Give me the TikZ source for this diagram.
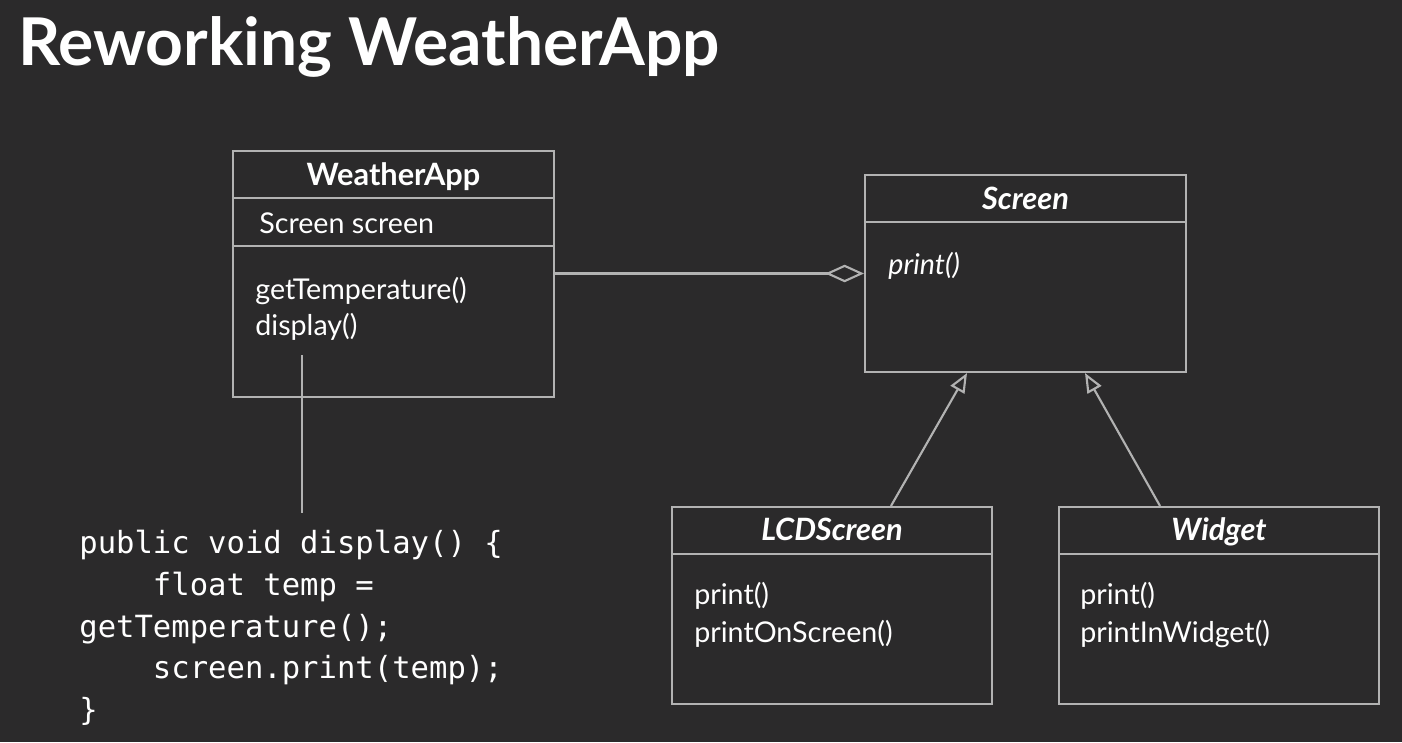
\documentclass[tikz,border=0pt]{standalone}
\usepackage{fontspec}
\setmainfont{Lato}
\newfontfamily\codefont{DejaVu Sans Mono}
\usetikzlibrary{arrows.meta,calc}

\definecolor{slidebg}{RGB}{43,42,43}
\definecolor{umlline}{RGB}{178,178,178}

\tikzset{
  classbox/.style={draw=umlline, line width=1.2pt, minimum width=6.42cm, inner sep=0pt},
  divider/.style={draw=umlline, line width=1.2pt},
  classname/.style={text=white, anchor=base, inner sep=0pt, font=\bfseries\fontsize{17.5}{21}\selectfont},
  member/.style={text=white, anchor=base west, inner sep=0pt, font=\fontsize{16.3}{19}\selectfont},
  link/.style={draw=umlline, line width=1.2pt},
  aggregation/.style={link, -{Diamond[open, length=22pt, width=10pt]}},
  inherit/.style={link, -{Triangle[open, length=11pt, width=9pt]}}
}

\begin{document}
\begin{tikzpicture}
% Background of the slide
\fill[slidebg] (0,0) rectangle (28.04,-14.84);

% Title
\node[anchor=base west, inner sep=0pt, text=white, font=\bfseries\fontsize{37.5}{44}\selectfont] (title) at (0.36,-1.32) {Reworking WeatherApp};

% WeatherApp class
\node[classbox, minimum height=4.92cm] (app) at (7.87,-5.48) {};
\draw[divider] (4.66,-3.96) -- (11.08,-3.96);
\draw[divider] (4.66,-4.92) -- (11.08,-4.92);
\node[classname] (appname) at (7.87,-3.70) {WeatherApp};
\node[member] (appfield) at (5.18,-4.66) {Screen screen};
\node[member] (gettemp) at (5.10,-5.98) {getTemperature()};
\node[member] (disp) at (5.10,-6.70) {display()};

% Screen class
\node[classbox, minimum height=3.94cm] (screen) at (20.51,-5.47) {};
\draw[divider] (17.30,-4.44) -- (23.72,-4.44);
\node[classname, font=\bfseries\itshape\fontsize{17.5}{21}\selectfont] (screenname) at (20.51,-4.18) {Screen};
\node[member, font=\itshape\fontsize{16.3}{19}\selectfont] (screenprint) at (17.76,-5.48) {print()};

% LCDScreen class
\node[classbox, minimum width=6.40cm, minimum height=3.94cm] (lcd) at (16.64,-12.11) {};
\draw[divider] (13.44,-11.08) -- (19.84,-11.08);
\node[classname, font=\bfseries\itshape\fontsize{17.5}{21}\selectfont] (lcdname) at (16.64,-10.80) {LCDScreen};
\node[member] (lcdprint) at (13.88,-12.08) {print()};
\node[member] (lcdshow) at (13.88,-12.84) {printOnScreen()};

% Widget class
\node[classbox, minimum width=6.40cm, minimum height=3.94cm] (widget) at (24.38,-12.11) {};
\draw[divider] (21.18,-11.08) -- (27.58,-11.08);
\node[classname, font=\bfseries\itshape\fontsize{17.5}{21}\selectfont] (widgetname) at (24.38,-10.80) {Widget};
\node[member] (widgetprint) at (21.60,-12.08) {print()};
\node[member] (widgetshow) at (21.60,-12.84) {printInWidget()};

% Code of display()
\node[anchor=north west, inner sep=0pt, text=white, align=left,
      font=\codefont\fontsize{17.4}{23.7}\selectfont] (code) at (1.58,-10.60)
  {public void display() \{\\
   \phantom{0000}float temp =\\
   getTemperature();\\
   \phantom{0000}screen.print(temp);\\
   \}};
\coordinate (codetop) at (6.04,-10.26);

% Connectors
\draw[aggregation] (app.east |- screen.west) -- (screen.west);
\draw[inherit] ($(lcd.north)+(1.18,0)$) -- ($(screen.south)+(-1.17,0)$);
\draw[inherit] ($(widget.north)+(-1.18,0)$) -- ($(screen.south)+(1.19,0)$);
\draw[link] (disp.south -| codetop) ++(0,-0.3) -- (codetop);
\end{tikzpicture}
\end{document}
